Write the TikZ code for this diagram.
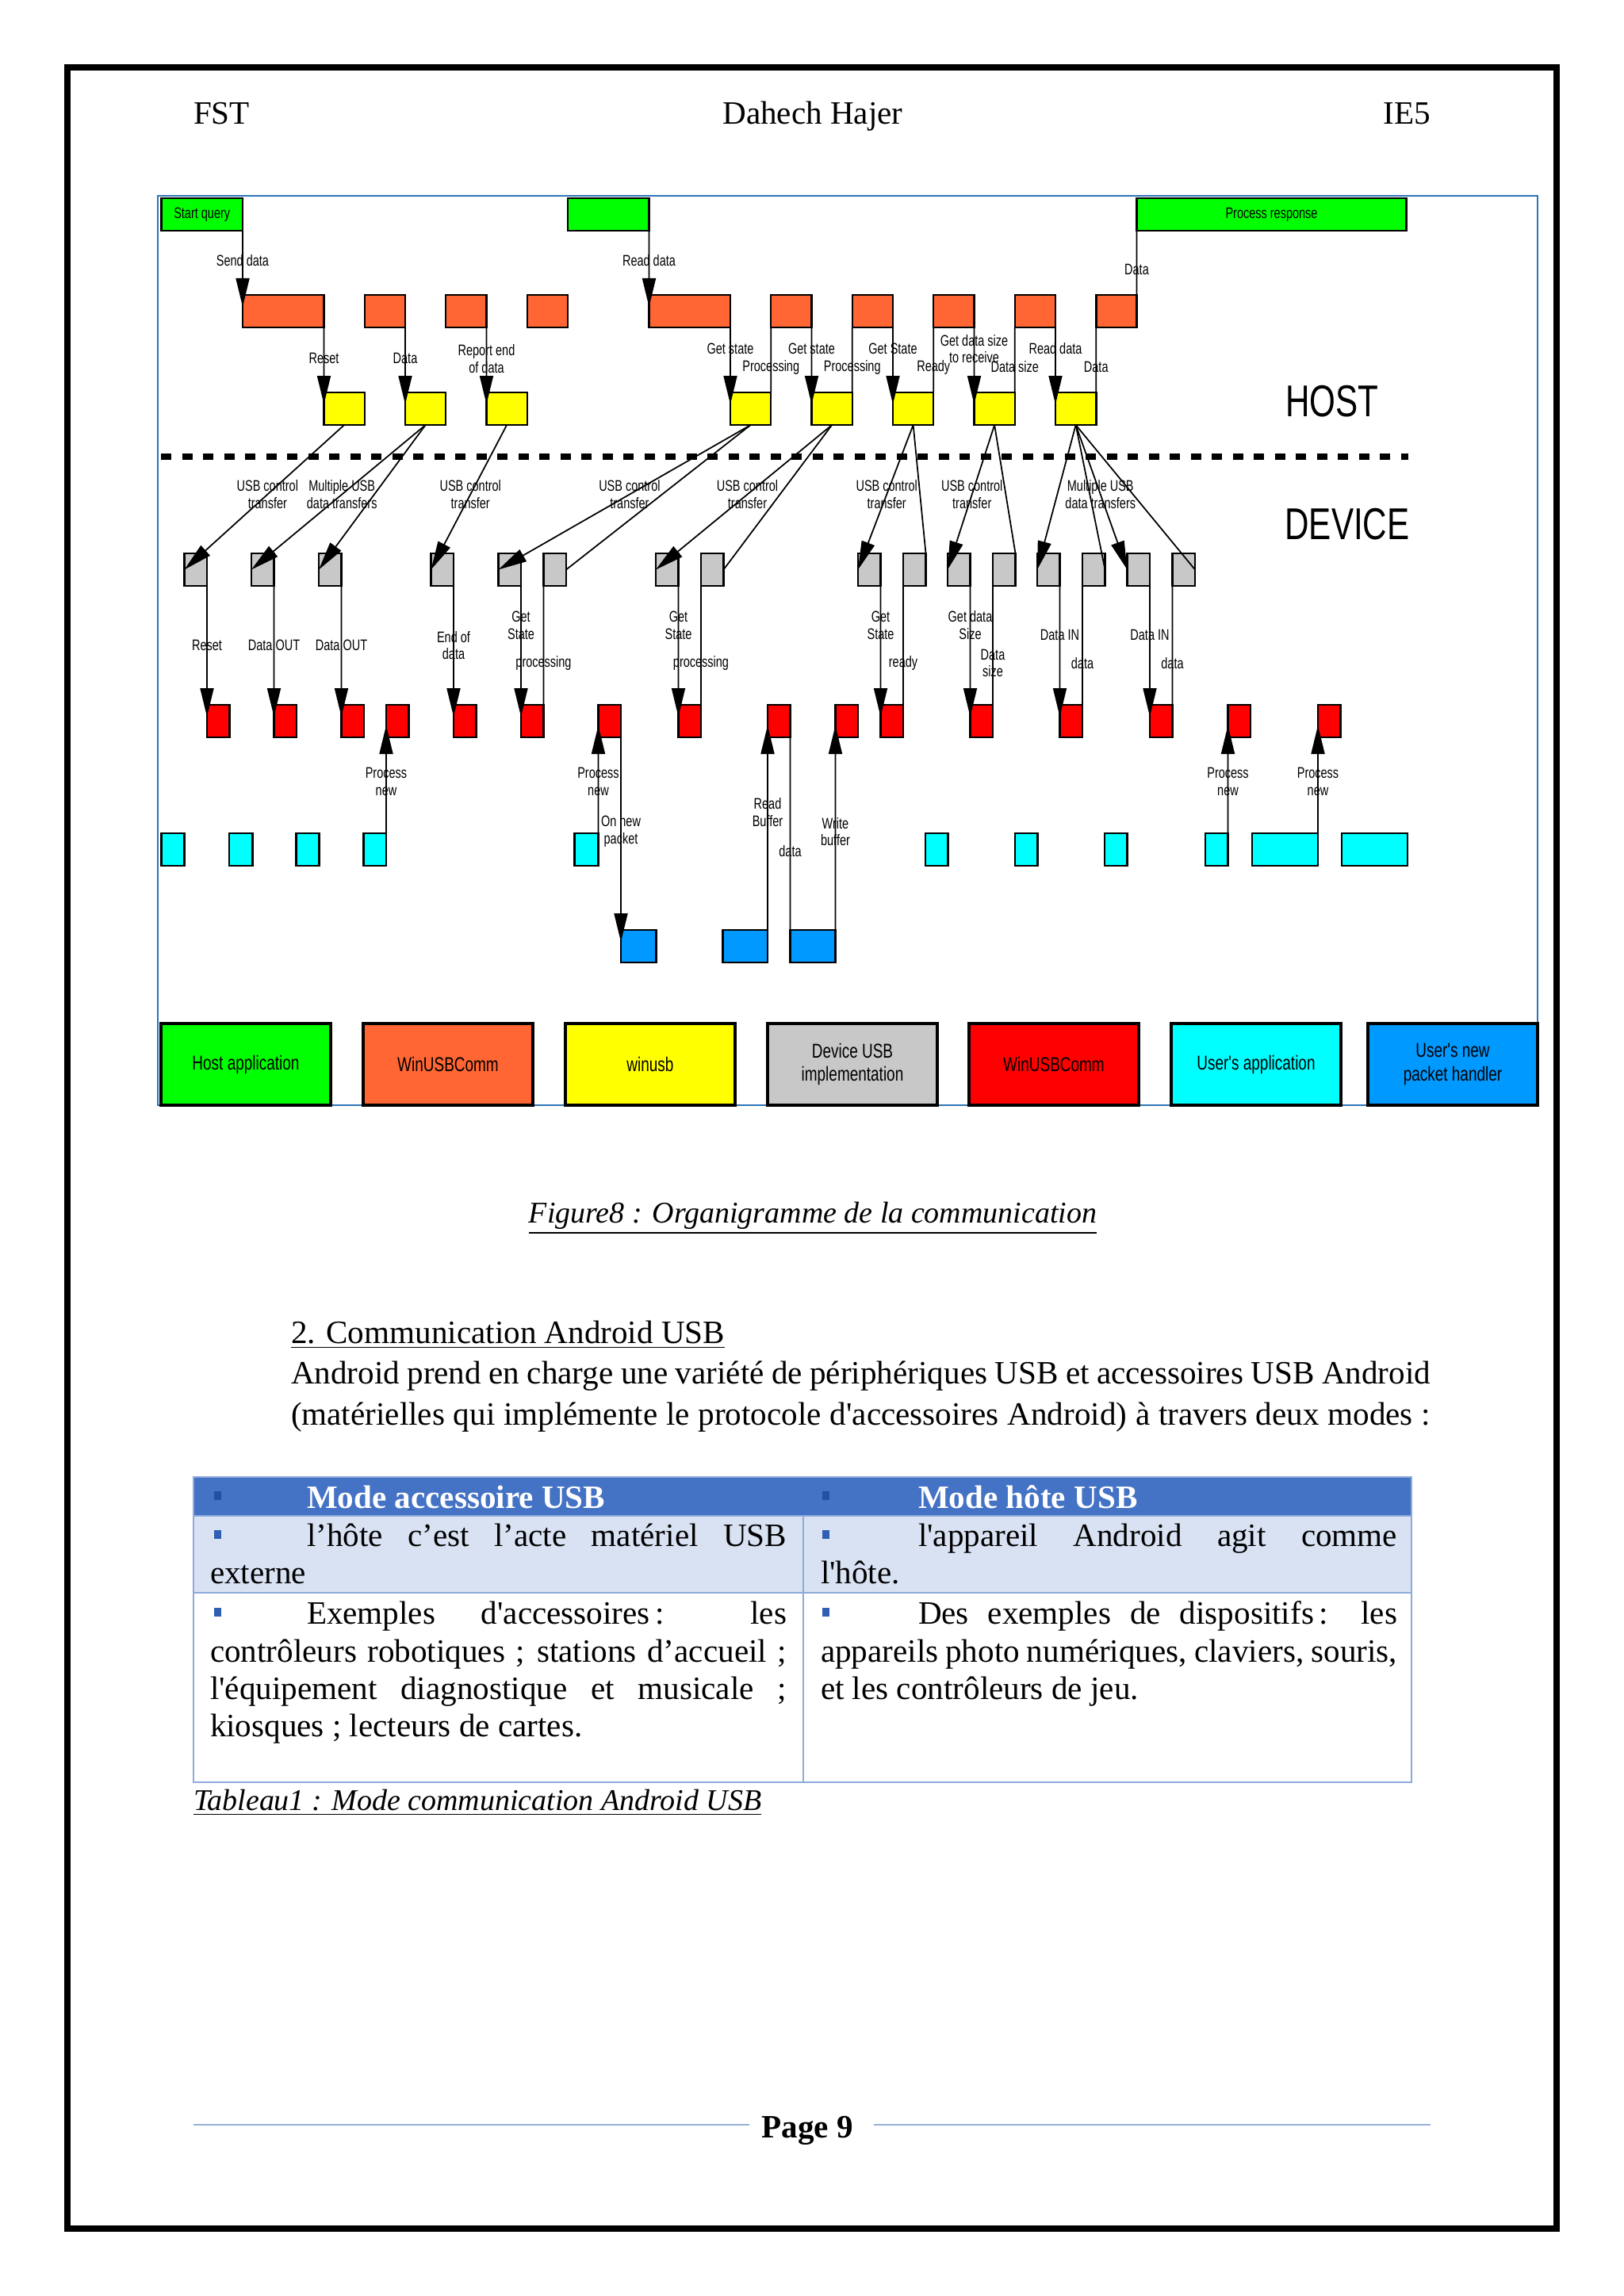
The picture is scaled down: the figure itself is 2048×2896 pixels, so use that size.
\documentclass[tikz,border=0pt]{standalone}
\usepackage{fontspec}
\setmainfont{Liberation Serif}[Ligatures=TeXOff]
\newfontfamily\diafont[FakeStretch=0.75]{Liberation Sans}
\usetikzlibrary{arrows.meta}
\definecolor{usbgreen}{HTML}{00FF00}
\definecolor{usborange}{HTML}{FF6633}
\definecolor{usbyellow}{HTML}{FFFF00}
\definecolor{usbgrey}{HTML}{C8C8C8}
\definecolor{usbred}{HTML}{FF0000}
\definecolor{usbcyan}{HTML}{00FFFF}
\definecolor{usbblue}{HTML}{0099FF}
\definecolor{framecol}{HTML}{2E75B6}
\definecolor{tabhead}{HTML}{4472C4}
\definecolor{tabrow}{HTML}{D9E2F3}
\definecolor{tabline}{HTML}{8EAADB}
\definecolor{tabbullet}{HTML}{2F5FB3}
\definecolor{headbullet}{HTML}{24509E}
\definecolor{footline}{HTML}{95AFD6}
\newcommand{\spreadline}[2]{\makebox[#1][s]{#2}}

\begin{document}
\begin{tikzpicture}[
        x=0.1mm, y=-0.1mm,
        every node/.style={inner sep=0pt, outer sep=0pt},
        blk/.style={draw, line width=0.7pt, anchor=north west, minimum height=4.1mm, font=\diafont\fontsize{5.5}{6.2}\selectfont},
        wbox/.style={blk, minimum width=10.25mm},
        sbox/.style={blk, minimum width=5.125mm},
        nbox/.style={blk, minimum width=2.85mm},
        lbl/.style={font=\diafont\fontsize{5.5}{6.2}\selectfont, align=center},
        side/.style={font=\diafont\fontsize{16}{16}\selectfont},
        legend/.style={draw, line width=1pt, anchor=north west, minimum width=21.4mm, minimum height=10.3mm, align=center, font=\diafont\fontsize{7.2}{8.5}\selectfont},
        arr/.style={line width=0.5pt, -{Triangle[length=3.6mm, width=1.7mm]}, shorten >=-1.5mm},
        xarr/.style={line width=0.5pt, -{Triangle[length=3.6mm, width=1.7mm]}},
        link/.style={line width=0.5pt},
        pagetext/.style={font=\fontsize{11.7}{14}\selectfont, anchor=base west},
        captext/.style={font=\fontsize{10.8}{13}\selectfont\itshape}
    ]
        \useasboundingbox (0,0) rectangle (2048,2896);
        \draw[line width=0.75mm] (85,85) rectangle (1963,2811);
        \node[pagetext] (hdrleft) at (244,157) {FST};
        \node[pagetext, anchor=base] (hdrmid) at (1025,157) {Dahech Hajer};
        \node[pagetext, anchor=base east] (hdrright) at (1804,157) {IE5};

        \draw[framecol, line width=0.6pt] (199,247) rectangle (1939,1394);

        \node[wbox, fill=usbgreen] (startq) at (203.5,250) {Start query};
        \node[wbox, fill=usbgreen] (readq) at (716,250) {};
        \node[blk, fill=usbgreen, minimum width=34mm] (procresp) at (1433.5,250) {Process response};

        \node[wbox, fill=usborange] (or1) at (306,372) {};
        \node[sbox, fill=usborange] (or2) at (459.75,372) {};
        \node[sbox, fill=usborange] (or3) at (562.25,372) {};
        \node[sbox, fill=usborange] (or4) at (664.75,372) {};
        \node[wbox, fill=usborange] (or5) at (818.5,372) {};
        \node[sbox, fill=usborange] (or6) at (972.25,372) {};
        \node[sbox, fill=usborange] (or7) at (1074.75,372) {};
        \node[sbox, fill=usborange] (or8) at (1177.25,372) {};
        \node[sbox, fill=usborange] (or9) at (1279.75,372) {};
        \node[sbox, fill=usborange] (or10) at (1382.25,372) {};

        \node[sbox, fill=usbyellow] (ye1) at (408.5,495) {};
        \node[sbox, fill=usbyellow] (ye2) at (511,495) {};
        \node[sbox, fill=usbyellow] (ye3) at (613.5,495) {};
        \node[sbox, fill=usbyellow] (ye4) at (921,495) {};
        \node[sbox, fill=usbyellow] (ye5) at (1023.5,495) {};
        \node[sbox, fill=usbyellow] (ye6) at (1126,495) {};
        \node[sbox, fill=usbyellow] (ye7) at (1228.5,495) {};
        \node[sbox, fill=usbyellow] (ye8) at (1331,495) {};

        \node[nbox, fill=usbgrey] (gy1) at (232.5,698) {};
        \node[nbox, fill=usbgrey] (gy2) at (317,698) {};
        \node[nbox, fill=usbgrey] (gy3) at (402,698) {};
        \node[nbox, fill=usbgrey] (gy4) at (543.5,698) {};
        \node[nbox, fill=usbgrey] (gy5) at (628.5,698) {};
        \node[nbox, fill=usbgrey] (gy6) at (685.5,698) {};
        \node[nbox, fill=usbgrey] (gy7) at (827,698) {};
        \node[nbox, fill=usbgrey] (gy8) at (884,698) {};
        \node[nbox, fill=usbgrey] (gy9) at (1082,698) {};
        \node[nbox, fill=usbgrey] (gy10) at (1139,698) {};
        \node[nbox, fill=usbgrey] (gy11) at (1195,698) {};
        \node[nbox, fill=usbgrey] (gy12) at (1252,698) {};
        \node[nbox, fill=usbgrey] (gy13) at (1308,698) {};
        \node[nbox, fill=usbgrey] (gy14) at (1365,698) {};
        \node[nbox, fill=usbgrey] (gy15) at (1421.5,698) {};
        \node[nbox, fill=usbgrey] (gy16) at (1478.5,698) {};

        \node[nbox, fill=usbred] (rd1) at (261,889) {};
        \node[nbox, fill=usbred] (rd2) at (345.5,889) {};
        \node[nbox, fill=usbred] (rd3) at (430.5,889) {};
        \node[nbox, fill=usbred] (rd4) at (487,889) {};
        \node[nbox, fill=usbred] (rd5) at (572,889) {};
        \node[nbox, fill=usbred] (rd6) at (657,889) {};
        \node[nbox, fill=usbred] (rd7) at (754.5,889) {};
        \node[nbox, fill=usbred] (rd8) at (855.5,889) {};
        \node[nbox, fill=usbred] (rd9) at (968,889) {};
        \node[nbox, fill=usbred] (rd10) at (1053.5,889) {};
        \node[nbox, fill=usbred] (rd11) at (1110.5,889) {};
        \node[nbox, fill=usbred] (rd12) at (1223.5,889) {};
        \node[nbox, fill=usbred] (rd13) at (1336.5,889) {};
        \node[nbox, fill=usbred] (rd14) at (1450,889) {};
        \node[nbox, fill=usbred] (rd15) at (1548.5,889) {};
        \node[nbox, fill=usbred] (rd16) at (1662,889) {};

        \node[nbox, fill=usbcyan, minimum width=2.9mm] (cy1) at (203.5,1051) {};
        \node[nbox, fill=usbcyan, minimum width=2.95mm] (cy2) at (289,1051) {};
        \node[nbox, fill=usbcyan, minimum width=2.9mm] (cy3) at (373.5,1051) {};
        \node[nbox, fill=usbcyan] (cy4) at (458.5,1051) {};
        \node[nbox, fill=usbcyan, minimum width=3mm] (cy5) at (724.5,1051) {};
        \node[nbox, fill=usbcyan] (cy6) at (1167,1051) {};
        \node[nbox, fill=usbcyan] (cy7) at (1280,1051) {};
        \node[nbox, fill=usbcyan] (cy8) at (1393,1051) {};
        \node[nbox, fill=usbcyan] (cy9) at (1520,1051) {};
        \node[nbox, fill=usbcyan, minimum width=8.3mm] (cy10) at (1579,1051) {};
        \node[nbox, fill=usbcyan, minimum width=8.3mm] (cy11) at (1692,1051) {};

        \node[nbox, fill=usbblue, minimum width=4.45mm] (bl1) at (783,1173) {};
        \node[nbox, fill=usbblue, minimum width=5.65mm] (bl2) at (911.5,1173) {};
        \node[nbox, fill=usbblue, minimum width=5.7mm] (bl3) at (996.5,1173) {};

        \node[side] (hostlbl) at (1680,506) {HOST};
        \node[side] (devlbl) at (1699,661) {DEVICE};

        \draw[arr] (startq.south east) -- (or1.north west) node[lbl, pos=0.47] {Send data};
        \draw[arr] (readq.south east) -- (or5.north west) node[lbl, pos=0.47] {Read data};
        \draw[link] (procresp.south west) -- (or10.north east) node[lbl, pos=0.6] {Data};

        \draw[arr] (or1.south east) -- (ye1.north west) node[lbl, pos=0.48] {Reset};
        \draw[arr] (or2.south east) -- (ye2.north west) node[lbl, pos=0.48] {Data};
        \draw[arr] (or3.south east) -- (ye3.north west) node[lbl, pos=0.48] {Report end\\of data};
        \draw[arr] (or5.south east) -- (ye4.north west) node[lbl, pos=0.33] {Get state};
        \draw[link] (ye4.north east) -- (or6.south west) node[lbl, pos=0.39] {Processing};
        \draw[arr] (or6.south east) -- (ye5.north west) node[lbl, pos=0.33] {Get state};
        \draw[link] (ye5.north east) -- (or7.south west) node[lbl, pos=0.39] {Processing};
        \draw[arr] (or7.south east) -- (ye6.north west) node[lbl, pos=0.33] {Get State};
        \draw[link] (ye6.north east) -- (or8.south west) node[lbl, pos=0.39] {Ready};
        \draw[arr] (or8.south east) -- (ye7.north west) node[lbl, pos=0.33] {Get data size\\to receive};
        \draw[link] (ye7.north east) -- (or9.south west) node[lbl, pos=0.39] {Data size};
        \draw[arr] (or9.south east) -- (ye8.north west) node[lbl, pos=0.33] {Read data};
        \draw[link] (ye8.north east) -- (or10.south west) node[lbl, pos=0.39] {Data};

        \draw[line width=0.8mm, dash pattern=on 1.3mm off 1.35mm] (203,576) -- (1776,576);

        \draw[xarr] (ye1.south) -- (gy1.west) node[lbl, pos=0.48] {USB control\\transfer};
        \draw[xarr] (ye2.south) -- (gy2.west) node[lbl, pos=0.48] {Multiple USB\\data transfers};
        \draw[xarr] (ye2.south) -- (gy3.west);
        \draw[xarr] (ye3.south) -- (gy4.west) node[lbl, pos=0.48] {USB control\\transfer};
        \draw[xarr] (ye4.south) -- (gy5.west) node[lbl, pos=0.48] {USB control\\transfer};
        \draw[link] (ye4.south) -- (gy6.east);
        \draw[xarr] (ye5.south) -- (gy7.west) node[lbl, pos=0.48] {USB control\\transfer};
        \draw[link] (ye5.south) -- (gy8.east);
        \draw[xarr] (ye6.south) -- (gy9.west) node[lbl, pos=0.48] {USB control\\transfer};
        \draw[link] (ye6.south) -- (gy10.north east);
        \draw[xarr] (ye7.south) -- (gy11.west) node[lbl, pos=0.48] {USB control\\transfer};
        \draw[link] (ye7.south) -- (gy12.north east);
        \draw[xarr] (ye8.south) -- (gy13.west);
        \draw[link] (ye8.south) -- (gy14.east);
        \draw[xarr] (ye8.south) -- (gy15.west) node[lbl, pos=0.48] {Multiple USB\\data transfers};
        \draw[link] (ye8.south) -- (gy16.east);

        \draw[arr] (gy1.south east) -- (rd1.north west) node[lbl, midway] {Reset};
        \draw[arr] (gy2.south east) -- (rd2.north west) node[lbl, midway] {Data OUT};
        \draw[arr] (gy3.south east) -- (rd3.north west) node[lbl, midway] {Data OUT};
        \draw[arr] (gy4.south east) -- (rd5.north west) node[lbl, midway] {End of\\data};
        \draw[arr] (gy5.south east) -- (rd6.north west) node[lbl, pos=0.33] {Get\\State};
        \draw[link] (gy6.south west) -- (rd6.north east) node[lbl, pos=0.65] {processing};
        \draw[arr] (gy7.south east) -- (rd8.north west) node[lbl, pos=0.33] {Get\\State};
        \draw[link] (gy8.south west) -- (rd8.north east) node[lbl, pos=0.65] {processing};
        \draw[arr] (gy9.south east) -- (rd11.north west) node[lbl, pos=0.33] {Get\\State};
        \draw[link] (gy10.south west) -- (rd11.north east) node[lbl, pos=0.65] {ready};
        \draw[arr] (gy11.south east) -- (rd12.north west) node[lbl, pos=0.33] {Get data\\Size};
        \draw[link] (gy12.south west) -- (rd12.north east) node[lbl, pos=0.65] {Data\\size};
        \draw[arr] (gy13.south east) -- (rd13.north west) node[lbl, pos=0.41] {Data IN};
        \draw[link] (gy14.south west) -- (rd13.north east) node[lbl, pos=0.65] {data};
        \draw[arr] (gy15.south east) -- (rd14.north west) node[lbl, pos=0.41] {Data IN};
        \draw[link] (gy16.south west) -- (rd14.north east) node[lbl, pos=0.65] {data};

        \draw[arr] (cy4.north east) -- (rd4.south west) node[lbl, pos=0.54] {Process\\new};
        \draw[arr] (cy5.north east) -- (rd7.south west) node[lbl, pos=0.54] {Process\\new};
        \draw[arr] (rd7.south east) -- (bl1.north west) node[lbl, pos=0.49] {On new\\packet};
        \draw[arr] (bl2.north east) -- (rd9.south west) node[lbl, pos=0.61] {Read\\Buffer};
        \draw[link] (bl3.north west) -- (rd9.south east) node[lbl, pos=0.41] {data};
        \draw[arr] (bl3.north east) -- (rd10.south west) node[lbl, pos=0.51] {Write\\buffer};
        \draw[arr] (cy9.north east) -- (rd15.south west) node[lbl, pos=0.54] {Process\\new};
        \draw[arr] (cy10.north east) -- (rd16.south west) node[lbl, pos=0.54] {Process\\new};

        \node[legend, fill=usbgreen] (lg1) at (203,1291) {Host application};
        \node[legend, fill=usborange] (lg2) at (458,1291) {WinUSBComm};
        \node[legend, fill=usbyellow] (lg3) at (713,1291) {winusb};
        \node[legend, fill=usbgrey] (lg4) at (968,1291) {Device USB\\implementation};
        \node[legend, fill=usbred] (lg5) at (1222,1291) {WinUSBComm};
        \node[legend, fill=usbcyan] (lg6) at (1477,1291) {User's application};
        \node[legend, fill=usbblue] (lg7) at (1725,1291) {User's new\\packet handler};

        \node[pagetext, captext, anchor=base] (figcap) at (1025,1542) {\underline{Figure8 : Organigramme de la communication}};
        \node[pagetext] (sectitle) at (367,1694) {\underline{2. Communication Android USB}};
        \node[pagetext] (para1) at (367,1745) {\spreadline{143.7mm}{Android prend en charge une variété de périphériques USB et accessoires USB Android}};
        \node[pagetext] (para2) at (367,1797) {\spreadline{143.7mm}{(matérielles qui implémente le protocole d'accessoires Android) à travers deux modes :}};

        \fill[tabhead] (244,1863) rectangle (1780,1912);
        \fill[tabrow] (244,1912) rectangle (1780,2009);
        \draw[tabline, line width=0.7pt] (244,1863) rectangle (1780,2248);
        \draw[tabline, line width=0.7pt] (244,1912) -- (1780,1912);
        \draw[tabline, line width=0.7pt] (244,2009) -- (1780,2009);
        \draw[tabline, line width=0.7pt] (1013,1912) -- (1013,2248);
        \fill[headbullet] (270,1881) rectangle (279,1892);
        \fill[headbullet] (1037,1881) rectangle (1046,1892);
        \fill[tabbullet] (270,1930) rectangle (279,1941);
        \fill[tabbullet] (1037,1930) rectangle (1046,1941);
        \fill[tabbullet] (270,2028) rectangle (279,2039);
        \fill[tabbullet] (1037,2028) rectangle (1046,2039);

        \node[pagetext, text=white] (headleft) at (387,1902) {\textbf{Mode accessoire USB}};
        \node[pagetext, text=white] (headright) at (1158,1902) {\textbf{Mode hôte USB}};
        \node[pagetext] (accline1) at (387,1950) {\spreadline{60.5mm}{l’hôte c’est l’acte matériel USB}};
        \node[pagetext] (accline2) at (265,1997) {externe};
        \node[pagetext] (hostline1) at (1158,1950) {\spreadline{60.4mm}{l'appareil Android agit comme}};
        \node[pagetext] (hostline2) at (1035,1997) {l'hôte.};
        \node[pagetext] (accex1) at (387,2048) {\spreadline{60.5mm}{Exemples d'accessoires\,: les}};
        \node[pagetext] (accex2) at (265,2096) {\spreadline{72.7mm}{contrôleurs robotiques ; stations d’accueil ;}};
        \node[pagetext] (accex3) at (265,2143) {\spreadline{72.7mm}{l'équipement diagnostique et musicale ;}};
        \node[pagetext] (accex4) at (265,2190) {kiosques ; lecteurs de cartes.};
        \node[pagetext] (hostex1) at (1158,2048) {\spreadline{60.4mm}{Des exemples de dispositifs\,: les}};
        \node[pagetext] (hostex2) at (1035,2096) {\spreadline{72.7mm}{appareils photo numériques, claviers, souris,}};
        \node[pagetext] (hostex3) at (1035,2143) {et les contrôleurs de jeu.};
        \node[pagetext, captext] (tabcap) at (244,2283) {\underline{Tableau1 : Mode communication Android USB}};

        \node[pagetext, anchor=base] (pagenum) at (1018,2696) {\textbf{Page 9}};
        \draw[footline, line width=0.5pt] (244,2680) -- (945,2680);
        \draw[footline, line width=0.5pt] (1102,2680) -- (1804,2680);
    \end{tikzpicture}
\end{document}
